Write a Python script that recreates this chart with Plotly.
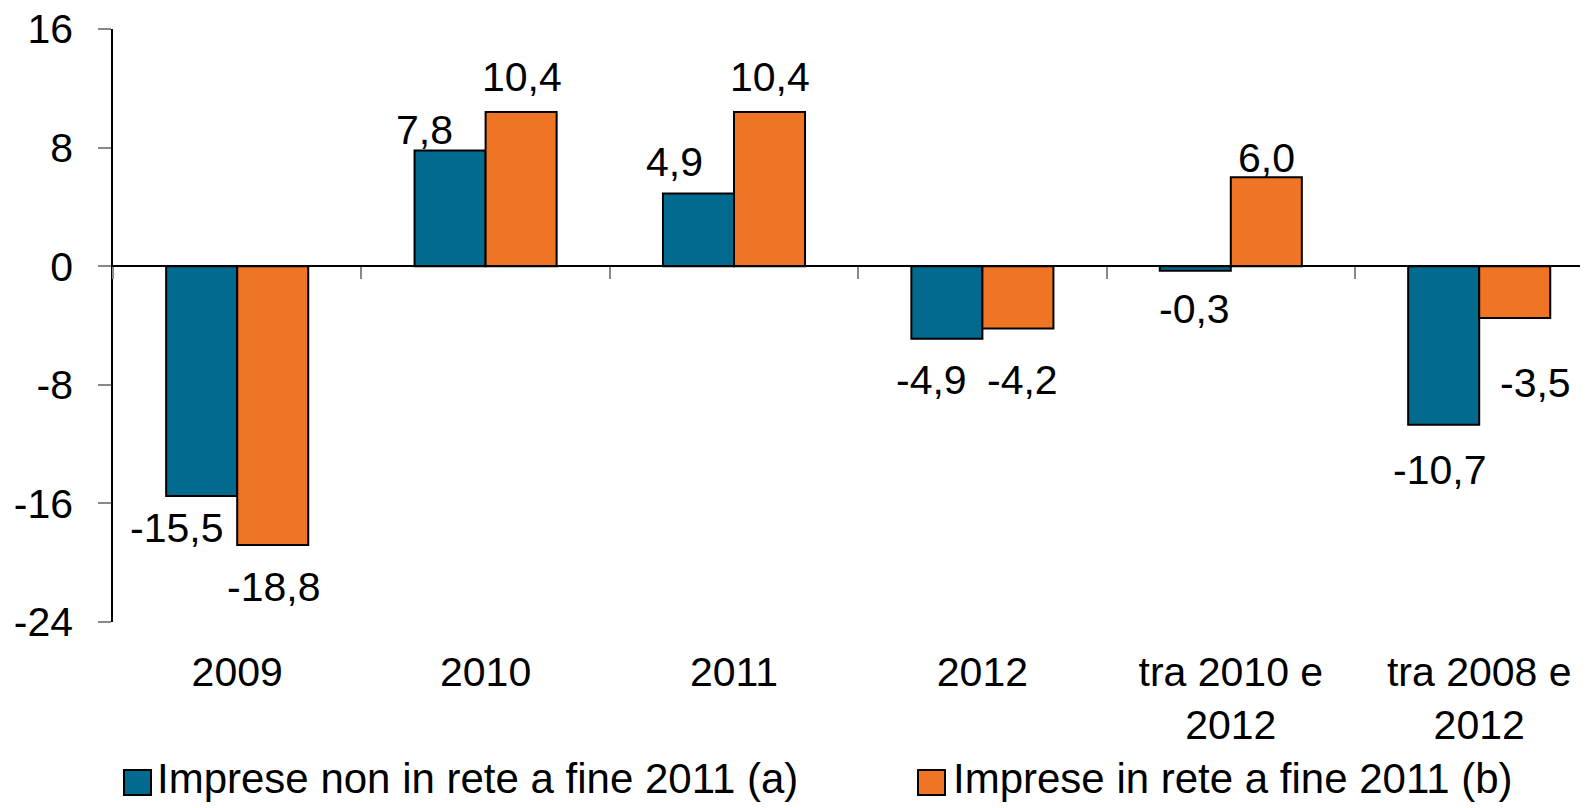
import plotly.graph_objects as go

categories = ["2009", "2010", "2011", "2012", "tra 2010 e<br>2012", "tra 2008 e<br>2012"]
series_a_name = "Imprese non in rete a fine 2011 (a)"
series_b_name = "Imprese in rete a fine 2011 (b)"
values_a = [-15.5, 7.8, 4.9, -4.9, -0.3, -10.7]
values_b = [-18.8, 10.4, 10.4, -4.2, 6.0, -3.5]
y_ticks = [16, 8, 0, -8, -16, -24]

# label offsets (pixels) relative to the category centre / bar end
label_dx_a = [-61, -61, -60, -51, -36, -40]
label_dy_a = [-32, 21, 32, -41, -38, -45]
label_dx_b = [36, 36, 36, 40, 36, 56]
label_dy_b = [-42, 35, 35, -52, 19, -65]

BLUE = "#026A8F"
ORANGE = "#EF7424"
FONT = "Liberation Sans, Arial, sans-serif"

# the page body has an 8px default margin; the figure is sized to fill the rest
OFF = 8
W, H = 1588 - OFF, 808 - OFF
ML, MR, MT, MB = 113 - OFF, 0, 29 - OFF, 186
PW, PH = W - ML - MR, H - MT - MB


def fmt(v):
    return f"{v:.1f}".replace(".", ",")


def px_x(px):  # px in screenshot coordinates
    return (px - OFF - ML) / PW


def px_y(py):
    return (H - MB - (py - OFF)) / PH


fig = go.Figure()
fig.add_trace(go.Bar(x=categories, y=values_a, name=series_a_name,
                     marker=dict(color=BLUE, line=dict(color="black", width=2)),
                     showlegend=False))
fig.add_trace(go.Bar(x=categories, y=values_b, name=series_b_name,
                     marker=dict(color=ORANGE, line=dict(color="black", width=2)),
                     showlegend=False))
# helper trace for the zero-line axis with boundary ticks
fig.add_trace(go.Scatter(x=categories, y=[0] * len(categories), xaxis="x2",
                         mode="none", showlegend=False, hoverinfo="skip"))

annotations = []
for i, c in enumerate(categories):
    annotations.append(dict(x=i, y=values_a[i], xref="x", yref="y", text=fmt(values_a[i]),
                            showarrow=False, xshift=label_dx_a[i], yshift=label_dy_a[i],
                            xanchor="center", yanchor="middle",
                            font=dict(family=FONT, size=41, color="black")))
    annotations.append(dict(x=i, y=values_b[i], xref="x", yref="y", text=fmt(values_b[i]),
                            showarrow=False, xshift=label_dx_b[i], yshift=label_dy_b[i],
                            xanchor="center", yanchor="middle",
                            font=dict(family=FONT, size=41, color="black")))

# manual legend
legend_items = [(series_a_name, BLUE, 124, 155), (series_b_name, ORANGE, 918, 951)]
shapes = []
for name, col, sx, tx in legend_items:
    shapes.append(dict(type="rect", xref="paper", yref="paper",
                       x0=px_x(sx), x1=px_x(sx + 27), y0=px_y(795), y1=px_y(770),
                       fillcolor=col, line=dict(color="black", width=2)))
    annotations.append(dict(x=px_x(tx), y=px_y(778), xref="paper", yref="paper",
                            text=name, showarrow=False, xanchor="left", yanchor="middle",
                            font=dict(family=FONT, size=42, color="black")))

fig.update_layout(
    width=W, height=H,
    margin=dict(l=ML, r=MR, t=MT, b=MB, pad=0, autoexpand=False),
    paper_bgcolor="white", plot_bgcolor="white",
    barmode="group", bargap=0.428, bargroupgap=0,
    annotations=annotations, shapes=shapes,
    font=dict(family=FONT, size=40, color="black"),
    xaxis=dict(type="category", range=[-0.5, 5.438], showline=False, ticks="",
               showgrid=False, zeroline=False, automargin=False,
               tickfont=dict(family=FONT, size=41, color="black"),
               ticklabelstandoff=22, ticklabeloverflow="allow"),
    xaxis2=dict(type="category", overlaying="x", anchor="free", position=24 / 40,
                range=[-0.5, 5.438], matches="x", showline=True, linecolor="black", linewidth=1.5,
                ticks="outside", tickson="boundaries", ticklen=12, tickcolor="#888888",
                tickwidth=1.5, showticklabels=False, showgrid=False, zeroline=False,
                automargin=False),
    yaxis=dict(range=[-24, 16], tickvals=y_ticks, ticktext=[str(t) for t in y_ticks],
               showline=True, linecolor="black", linewidth=1.5, ticks="outside",
               ticklen=13, tickcolor="#888888", tickwidth=1.5, showgrid=False,
               zeroline=False, automargin=False,
               tickfont=dict(family=FONT, size=41, color="black"),
               ticklabelstandoff=17, ticklabeloverflow="allow"),
)

fig.write_html("out.html")
